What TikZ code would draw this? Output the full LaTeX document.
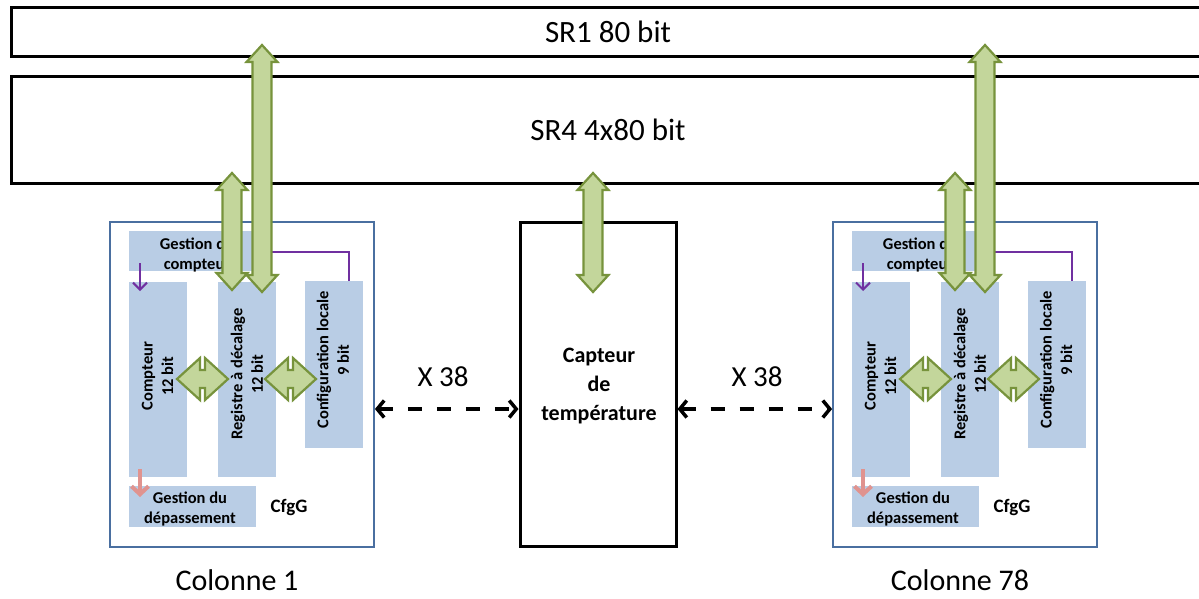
\documentclass[tikz,border=0pt]{standalone}
\usepackage{fontspec}
\setmainfont{Carlito}
\usetikzlibrary{arrows.meta}
\definecolor{colblue}{HTML}{4A6FA0}
\definecolor{lblue}{HTML}{B9CDE5}
\definecolor{gfill}{HTML}{C3D69B}
\definecolor{gline}{HTML}{77933C}
\definecolor{purp}{HTML}{7030A0}
\definecolor{salmonc}{HTML}{E0938F}
\newcommand\vbus[3]{\draw[bus] (#1,#2) -- (#1+15.5,#2+17) -- (#1+9.5,#2+17) -- (#1+9.5,#3-17) -- (#1+15.5,#3-17) -- (#1,#3) -- (#1-15.5,#3-17) -- (#1-9.5,#3-17) -- (#1-9.5,#2+17) -- (#1-15.5,#2+17) -- cycle;}
\newcommand\hbus[3]{\draw[bus] (#1,#3) -- (#1+23,#3-21) -- (#1+23,#3-9) -- (#2-23,#3-9) -- (#2-23,#3-21) -- (#2,#3) -- (#2-23,#3+21) -- (#2-23,#3+9) -- (#1+23,#3+9) -- (#1+23,#3+21) -- cycle;}
\newcommand\colonne[3]{%
\begin{scope}[xshift=#1]
\node[colbox, minimum width=264pt, minimum height=325pt] (#2box) at (242,384.5) {};
\node[lb, minimum width=136pt, minimum height=40pt] (#2gc) at (197,251) {};
\node[lb, minimum width=58pt, minimum height=195pt] (#2cpt) at (158,379.5) {};
\node[lb, minimum width=58pt, minimum height=195pt] (#2reg) at (247,379.5) {};
\node[lb, minimum width=58pt, minimum height=167pt] (#2cfg) at (334,364.5) {};
\node[lb, minimum width=127pt, minimum height=41pt] (#2gd) at (192.5,506.5) {};
\node[small] (#2gct) at (197,255) {Gestion du\\compteur};
\node[small, rotate=90] (#2cptt) at (157.5,376) {Compteur\\12 bit};
\node[small, rotate=90] (#2regt) at (247,374) {Registre à décalage\\12 bit};
\node[small, rotate=90] (#2cfgt) at (333,360) {Configuration locale\\9 bit};
\node[small] (#2gdt) at (190,509) {Gestion du\\dépassement};
\node[font=\fontsize{19}{22}\selectfont\bfseries] (#2cfgg) at (289,507) {CfgG};
\draw[purp, line width=1.8pt] (#2gc.east |- 0,252) -- (349,252) -- (#2cfg.north -| 349,0);
\draw[purp, line width=2pt, -{Straight Barb[length=7pt,width=14pt]}] (140,263) -- (140,291);
\draw[salmonc, line width=4pt, -{Straight Barb[length=8pt,width=17pt]}] (140,469) -- (140,497);
\hbus{177}{228}{379}
\hbus{265}{316}{379}
\vbus{232}{173}{290}
\vbus{262}{45}{292}
\node[font=\fontsize{30}{36}\selectfont] (#2lab) at (237,580) {#3};
\end{scope}}
\begin{document}
\begin{tikzpicture}[x=1pt,y=-1pt,
  colbox/.style={draw=colblue, line width=1.8pt, fill=white},
  lb/.style={fill=lblue, draw=none, inner sep=0pt},
  small/.style={font=\fontsize{16.5}{20.5}\selectfont\bfseries, align=center, inner sep=0pt},
  bus/.style={fill=gfill, draw=gline, line width=2.2pt, line join=miter},
  dash38/.style={line width=3.5pt, dash pattern=on 14pt off 15pt, {Straight Barb[length=7pt,width=17pt]}-{Straight Barb[length=7pt,width=17pt]}}]
\useasboundingbox (0,0) rectangle (1199,598);
\clip (0,0) rectangle (1199,598);
\draw[line width=3pt, fill=white] (11,7) rectangle (1215,56);
\node[font=\fontsize{31}{36}\selectfont] (sr1) at (608,32) {SR1 80 bit};
\draw[line width=3pt, fill=white] (11,76) rectangle (1215,183);
\node[font=\fontsize{31}{36}\selectfont] (sr4) at (608,130) {SR4 4x80 bit};
\colonne{0pt}{a}{Colonne 1}
\colonne{723pt}{b}{Colonne 78}
\node[draw, line width=3pt, minimum width=156pt, minimum height=324pt] (capt) at (598,384) {};
\node[font=\fontsize{22}{29}\selectfont\bfseries, align=center] (captt) at (599,386) {Capteur\\de\\température};
\vbus{593}{173}{292}
\draw[dash38] (abox.east |- 0,409) -- (capt.west |- 0,409);
\draw[dash38] (capt.east |- 0,409) -- (bbox.west |- 0,409);
\node[font=\fontsize{29}{34}\selectfont] (x1) at (443,377) {X 38};
\node[font=\fontsize{29}{34}\selectfont] (x2) at (757,377) {X 38};
\end{tikzpicture}
\end{document}
